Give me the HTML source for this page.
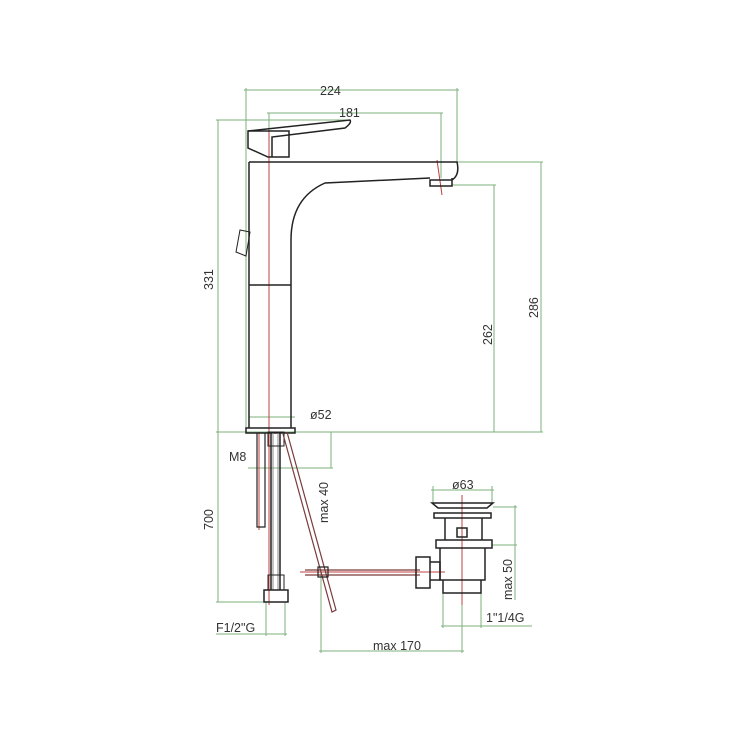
<!DOCTYPE html>
<html><head><style>html,body{margin:0;padding:0;background:#fff}svg{display:block}</style></head><body>
<svg width="750" height="750" viewBox="0 0 750 750" xmlns="http://www.w3.org/2000/svg" font-family="Liberation Sans, sans-serif" font-size="12" fill="none">
<!-- green dims -->
<g stroke="#7cb07c" stroke-width="1">
<path d="M246 88V432M457 88V162M244 90H459"/>
<path d="M269 113V130M441 113V178M267 113H443"/>
<path d="M216 120H350M218 120V602M216 432H543"/>
<path d="M457 162H543M541 162V432"/>
<path d="M452 185H496M494 185V432"/>
<path d="M249 417H295"/>
<path d="M331 432V468M248 468H333"/>
<path d="M216 602H287M216 634H287M266 602V636M285 602V636"/>
<path d="M321 572V653M462 600V653M319 651H464"/>
<path d="M433 486V503M492 486V503M431 490H494"/>
<path d="M493 507H517M492 545H517M515 505V600"/>
<path d="M443 593V628M481 593V628M441 626H532"/>
</g>
<!-- red center lines -->
<g stroke="#c04040" stroke-width="1">
<path d="M269 130V605M259 432V530M462 495V605M300 572H445"/>
<path d="M437 160L442 195"/>
</g>
<!-- faucet body -->
<g stroke="#222" stroke-width="1.5">
<path d="M249 162H457Q460 175 452 180H430V186H452V178"/>
<path d="M249 162V428M291 428V240Q291 198 325 183L430 178"/>
<path d="M249 285H291"/>
<path d="M246 428H295V433H246Z"/>
<path d="M248 131H289V157H268L248 148Z"/>
<path d="M248 131L350 120Q352 123 345 128L272 137V157"/>
<path d="M240 230L250 232L246 256L236 252Z" stroke-width="1"/>
<!-- hoses -->
<path d="M257 433V527H265V433" stroke-width="1.2"/>
<path d="M271 433V590M280 433V590" stroke-width="1.5"/>
<path d="M273 433V590M278 433V590" stroke="#888" stroke-width="1"/>
<path d="M264 590H288V602H264Z"/>
<path d="M268 432H284V446H268ZM268 575H284V590H268Z" stroke-width="1"/>
<path d="M283 434L332 612L336 610L287 432" stroke="#7a3a3a" stroke-width="1.2"/>
<path d="M305 570H420M305 575H420" stroke="#7a3a3a" stroke-width="1.2"/>
<path d="M318 567H328V577H318Z" stroke-width="1.2"/>
<!-- pop-up -->
<path d="M432 503H493L487 508H438Z"/>
<path d="M434 513H491V518H434Z"/>
<path d="M445 518V540M482 518V540M457 528H467V537H457Z"/>
<path d="M436 540H492V548H436Z"/>
<path d="M440 548V580H485V548M443 580V593H481V580"/>
<path d="M430 562H440V580H430M416 557H430V588H416Z"/>
</g>
<g fill="#333" font-size="12.5">
<text x="320" y="95" font-size="12.5" fill="#333">224</text>
<text x="339" y="117">181</text>
<text x="310" y="419">ø52</text>
<text transform="translate(213 290) rotate(-90)">331</text>
<text transform="translate(492 345) rotate(-90)">262</text>
<text transform="translate(538 318) rotate(-90)">286</text>
<text x="229" y="461">M8</text>
<text transform="translate(213 530) rotate(-90)">700</text>
<text transform="translate(328 523) rotate(-90)">max 40</text>
<text x="452" y="489">ø63</text>
<text transform="translate(512 600) rotate(-90)">max 50</text>
<text x="486" y="622">1"1/4G</text>
<text x="216" y="632">F1/2"G</text>
<text x="373" y="650">max 170</text>
</g>
</svg>
</body></html>
